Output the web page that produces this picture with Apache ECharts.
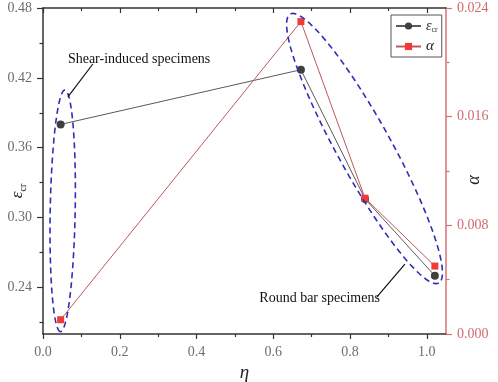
<!DOCTYPE html>
<html><head><meta charset="utf-8">
<script src="https://cdn.jsdelivr.net/npm/echarts@6/dist/echarts.min.js"></script>
<style>html,body{margin:0;padding:0;background:#fff}#c{width:498px;height:382px}</style>
</head><body><div id="c"></div>
<script>
// ---- data ----
const eta = [0.046, 0.672, 0.839, 1.021];
const epsCr = [0.380, 0.427, 0.316, 0.250];
const alpha = [0.00105, 0.0230, 0.0100, 0.0050];
const xTicks = [0, 0.2, 0.4, 0.6, 0.8, 1.0];
const xMinorTicks = [0.1, 0.3, 0.5, 0.7, 0.9];
const leftTicks = [0.24, 0.30, 0.36, 0.42, 0.48];
const leftMinorTicks = [0.21, 0.27, 0.33, 0.39, 0.45];
const rightTicks = [0, 0.008, 0.016, 0.024];
const rightMinorTicks = [0.004, 0.012, 0.020];
const groupLabels = ['Shear-induced specimens', 'Round bar specimens'];

// annotation anchors in (eta, eps_cr) data units
const annot = {
  ell1: { p1: [0.0571, 0.4096], p2: [0.0455, 0.2020], halfWidth: 12.5 },
  ell2: { p1: [0.6442, 0.4748], p2: [1.0312, 0.2438], halfWidth: 27 },
  lead1: [[0.1299, 0.4319], [0.0649, 0.4036]],
  lead2: [[0.8701, 0.2318], [0.9429, 0.2601]],
  text1: [0.0649, 0.4362],
  text2: [0.5636, 0.2309]
};

const SERIF = "'Liberation Serif', 'DejaVu Serif', serif";
const AX = '#333';
const RED_AX = '#dc6f76';
const LABEL_GRAY = '#6e6e6e';

const chart = echarts.init(document.getElementById('c'), null, { renderer: 'canvas' });

const richName = {
  e: { fontFamily: SERIF, fontStyle: 'italic', fontSize: 17, lineHeight: 20, color: '#222' },
  s: { fontFamily: SERIF, fontSize: 10, lineHeight: 9, verticalAlign: 'bottom', color: '#222' },
  a: { fontFamily: SERIF, fontStyle: 'italic', fontSize: 18, lineHeight: 20, color: '#222' }
};

function baseX(extra) {
  const o = Object.assign({
    type: 'value', min: 0, max: 1.05, gridIndex: 0,
    splitLine: { show: false }
  }, extra);
  o.axisLine = Object.assign({ onZero: false }, o.axisLine || {});
  return o;
}
function baseY(extra) {
  const o = Object.assign({ type: 'value', gridIndex: 0, splitLine: { show: false } }, extra);
  o.axisLine = Object.assign({ onZero: false }, o.axisLine || {});
  return o;
}

const option = {
  animation: false,
  backgroundColor: '#fff',
  grid: { left: 43, right: 52, top: 8, bottom: 48, containLabel: false, outerBoundsMode: 'none' },
  xAxis: [
    baseX({
      position: 'bottom',
      name: 'η', nameLocation: 'middle', nameGap: 28,
      nameTextStyle: { fontFamily: SERIF, fontStyle: 'italic', fontSize: 19, color: '#222' },
      axisLine: { show: true, lineStyle: { color: AX, width: 1.5 } },
      axisTick: { show: true, length: 5, customValues: xTicks, lineStyle: { color: AX, width: 1.2 } },
      axisLabel: { show: true, customValues: xTicks, margin: 11, fontFamily: SERIF, fontSize: 14, color: LABEL_GRAY,
        formatter: v => v.toFixed(1) }
    }),
    baseX({
      position: 'bottom',
      axisLine: { show: false },
      axisTick: { show: true, length: 3, customValues: xMinorTicks, lineStyle: { color: AX, width: 1.2 } },
      axisLabel: { show: false }
    }),
    baseX({
      position: 'top',
      axisLine: { show: true, lineStyle: { color: AX, width: 1.5 } },
      axisTick: { show: true, inside: true, length: 5, customValues: xTicks, lineStyle: { color: AX, width: 1.2 } },
      axisLabel: { show: false }
    }),
    baseX({
      position: 'top',
      axisLine: { show: false },
      axisTick: { show: true, inside: true, length: 3, customValues: xMinorTicks, lineStyle: { color: AX, width: 1.2 } },
      axisLabel: { show: false }
    })
  ],
  yAxis: [
    baseY({
      position: 'left', min: 0.2, max: 0.48,
      name: '{e|ε}{s|cr}', nameLocation: 'middle', nameGap: 15, nameMoveOverlap: false,
      nameTextStyle: { rich: richName, padding: [0, 40, 0, 0] },
      axisLine: { show: true, lineStyle: { color: AX, width: 1.5 } },
      axisTick: { show: true, length: 6, customValues: leftTicks, lineStyle: { color: AX, width: 1.2 } },
      axisLabel: { show: true, customValues: leftTicks, margin: 11, fontFamily: SERIF, fontSize: 14, color: LABEL_GRAY,
        formatter: v => v.toFixed(2) }
    }),
    baseY({
      position: 'right', min: 0, max: 0.024,
      name: '{a|α}', nameLocation: 'middle', nameGap: 18, nameMoveOverlap: false,
      nameTextStyle: { rich: richName, padding: [0, 18, 0, 0] },
      axisLine: { show: true, lineStyle: { color: RED_AX, width: 1.5 } },
      axisTick: { show: true, length: 6, customValues: rightTicks, lineStyle: { color: RED_AX, width: 1.2 } },
      axisLabel: { show: true, customValues: rightTicks, margin: 11, fontFamily: SERIF, fontSize: 14, color: '#d06b70',
        formatter: v => v.toFixed(3) }
    }),
    baseY({
      position: 'left', min: 0.2, max: 0.48,
      axisLine: { show: false },
      axisTick: { show: true, length: 3.5, customValues: leftMinorTicks, lineStyle: { color: AX, width: 1.2 } },
      axisLabel: { show: false }
    }),
    baseY({
      position: 'right', min: 0, max: 0.024,
      axisLine: { show: false },
      axisTick: { show: true, length: 3.5, customValues: rightMinorTicks, lineStyle: { color: RED_AX, width: 1.2 } },
      axisLabel: { show: false }
    })
  ],
  legend: {
    orient: 'vertical', left: 391, top: 15,
    padding: [4, 4, 3, 4], itemGap: 5, itemWidth: 25, itemHeight: 9,
    borderColor: '#555', borderWidth: 1, backgroundColor: '#fff',
    data: ['εcr', 'α'],
    formatter: n => n === 'εcr' ? '{e|ε}{s|cr}' : '{a|α}',
    textStyle: {
      rich: {
        e: { fontFamily: SERIF, fontStyle: 'italic', fontSize: 14, lineHeight: 16, color: '#222' },
        s: { fontFamily: SERIF, fontSize: 8, lineHeight: 8, verticalAlign: 'bottom', color: '#222' },
        a: { fontFamily: SERIF, fontStyle: 'italic', fontSize: 15, lineHeight: 16, color: '#222' }
      }
    }
  },
  series: [
    {
      name: 'εcr', type: 'line', xAxisIndex: 0, yAxisIndex: 0,
      data: eta.map((x, i) => [x, epsCr[i]]),
      symbol: 'circle', symbolSize: 8,
      lineStyle: { color: '#5a5a5a', width: 1 },
      itemStyle: { color: '#3f3f3f' },
      z: 3
    },
    {
      name: 'α', type: 'line', xAxisIndex: 0, yAxisIndex: 1,
      data: eta.map((x, i) => [x, alpha[i]]),
      symbol: 'rect', symbolSize: 7,
      lineStyle: { color: '#c0585a', width: 1 },
      itemStyle: { color: '#f03a3a' },
      z: 4
    }
  ]
};

chart.setOption(option);

// ---- annotations anchored to data coordinates ----
const toPx = p => chart.convertToPixel({ xAxisIndex: 0, yAxisIndex: 0 }, p);
function ellipsePoints(e) {
  const A = toPx(e.p1), B = toPx(e.p2);
  const cx = (A[0] + B[0]) / 2, cy = (A[1] + B[1]) / 2;
  const dx = B[0] - A[0], dy = B[1] - A[1];
  const len = Math.sqrt(dx * dx + dy * dy), a = len / 2;
  const ux = dx / len, uy = dy / len, vx = -uy, vy = ux;
  const pts = [];
  const N = 120;
  for (let k = 0; k < N; k++) {
    const t = (k / N) * Math.PI * 2;
    const c = Math.cos(t) * a, s = Math.sin(t) * e.halfWidth;
    pts.push([cx + c * ux + s * vx, cy + c * uy + s * vy]);
  }
  return pts;
}
const dashStyle = { stroke: '#2f2fb5', lineWidth: 1.6, lineDash: [6, 4], fill: null };
const l1a = toPx(annot.lead1[0]), l1b = toPx(annot.lead1[1]);
const l2a = toPx(annot.lead2[0]), l2b = toPx(annot.lead2[1]);
const t1 = toPx(annot.text1), t2 = toPx(annot.text2);

chart.setOption({
  graphic: [
    { type: 'polygon', shape: { points: ellipsePoints(annot.ell1) }, style: dashStyle, z: 10, silent: true },
    { type: 'polygon', shape: { points: ellipsePoints(annot.ell2) }, style: dashStyle, z: 10, silent: true },
    { type: 'line', shape: { x1: l1a[0], y1: l1a[1], x2: l1b[0], y2: l1b[1] }, style: { stroke: '#111', lineWidth: 1.2 }, z: 10 },
    { type: 'line', shape: { x1: l2a[0], y1: l2a[1], x2: l2b[0], y2: l2b[1] }, style: { stroke: '#111', lineWidth: 1.2 }, z: 10 },
    { type: 'text', x: t1[0], y: t1[1], style: { text: groupLabels[0], font: "14px " + SERIF, fill: '#111', textVerticalAlign: 'middle', verticalAlign: 'middle' }, z: 10 },
    { type: 'text', x: t2[0], y: t2[1], style: { text: groupLabels[1], font: "14px " + SERIF, fill: '#111', textVerticalAlign: 'middle', verticalAlign: 'middle' }, z: 10 }
  ]
});
</script>
</body></html>
